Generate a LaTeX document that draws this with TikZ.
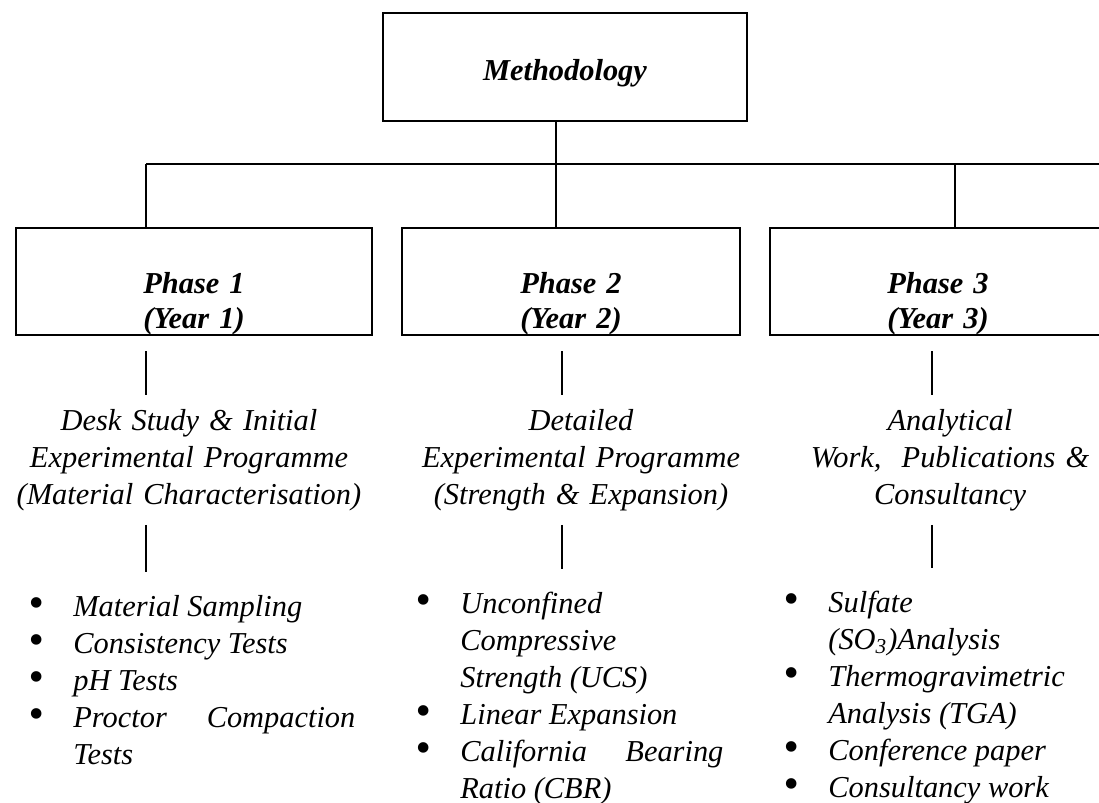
\documentclass[tikz,border=0pt]{standalone}
\usepackage{fontspec}
\setmainfont{Liberation Serif}
\usetikzlibrary{positioning,calc}
\tikzstyle{mbox}=[rectangle, draw=black, line width=1.1pt, inner sep=0pt]
\tikzstyle{l1}=[line width=0.8pt]
\tikzstyle{head}=[font=\bfseries\itshape\fontsize{15.2}{17.5}\selectfont, text width=170pt, align=center, inner sep=0pt, anchor=base]
\tikzstyle{desc}=[font=\itshape\fontsize{15.2}{18.5}\selectfont, text width=200pt, align=center, inner sep=7pt, anchor=base]
\tikzstyle{blist}=[font=\itshape\fontsize{15.2}{18.5}\selectfont, inner sep=0pt, anchor=base west]
\newlength\bulind \setlength\bulind{22.5pt}
\newcommand\bitem[1]{\raisebox{-0.8pt}{\scalebox{1.45}{\textbullet}} & #1\\}

\begin{document}
\begin{tikzpicture}[x=0.5pt, y=-0.5pt]
    \useasboundingbox (0,0) rectangle (1099,803);
    \clip (0,0) rectangle (1099,803);

    \node (m) [mbox, minimum width=182pt, minimum height=54pt, font=\bfseries\itshape\fontsize{15.2}{17.5}\selectfont, text height=13pt, text depth=0pt] at (565,67) {Methodology};

    \node (p1) [mbox, minimum width=178pt, minimum height=53.5pt] at (194,281.5) {};
    \node (p2) [mbox, minimum width=169pt, minimum height=53.5pt] at (571,281.5) {};
    \node (p3) [mbox, minimum width=168pt, minimum height=53.5pt] at (938,281.5) {};
    \node (t1) [head] at (194,293) {Phase 1\\(Year 1)};
    \node (t2) [head] at (571,293) {Phase 2\\(Year 2)};
    \node (t3) [head] at (938,293) {Phase 3\\(Year 3)};

    \node (d1) [desc] at (189,430) {Desk Study \& Initial\\Experimental Programme\\(Material Characterisation)};
    \node (d2) [desc] at (581,430) {Detailed\\Experimental Programme\\(Strength \& Expansion)};
    \node (d3) [desc] at (950,430) {Analytical\\Work,\ \ Publications \&\\Consultancy};

    \node (b1) [blist] at (28,616) {%
        \begin{tabular}[t]{@{}p{\bulind}@{}p{141pt}@{}}
        \bitem{Material Sampling}
        \bitem{Consistency Tests}
        \bitem{pH Tests}
        \bitem{Proctor\hfill Compaction\newline Tests}
        \end{tabular}};
    \node (b2) [blist] at (415,613) {%
        \begin{tabular}[t]{@{}p{\bulind}@{}p{131.5pt}@{}}
        \bitem{Unconfined\newline Compressive\newline Strength (UCS)}
        \bitem{Linear Expansion}
        \bitem{California\hfill Bearing\newline Ratio (CBR)}
        \end{tabular}};
    \node (b3) [blist] at (783,612) {%
        \begin{tabular}[t]{@{}p{\bulind}@{}p{130pt}@{}}
        \bitem{Sulfate\newline (SO\textsubscript{3})Analysis}
        \bitem{Thermogravimetric\newline Analysis (TGA)}
        \bitem{Conference paper}
        \bitem{Consultancy work}
        \end{tabular}};

    \coordinate (j1) at (146,164);
    \coordinate (j2) at (556,164);
    \coordinate (j3) at (955,164);
    \coordinate (jr) at (1099,164);
    \coordinate (k1) at (146,0);
    \coordinate (k2) at (562,0);
    \coordinate (k3) at (932,0);

    \draw[l1] (m.south -| j2) -- (j2);
    \draw[l1] (j1) -- (jr);
    \foreach \i in {1,2,3} {
        \draw[l1] (j\i) -- (j\i |- p\i.north);
        \draw[l1] ([yshift=-7.5pt]k\i |- p\i.south) -- (k\i |- d\i.north);
        \draw[l1] (k\i |- d\i.south) -- ([yshift=9pt]k\i |- b\i.north);
    }
\end{tikzpicture}
\end{document}
